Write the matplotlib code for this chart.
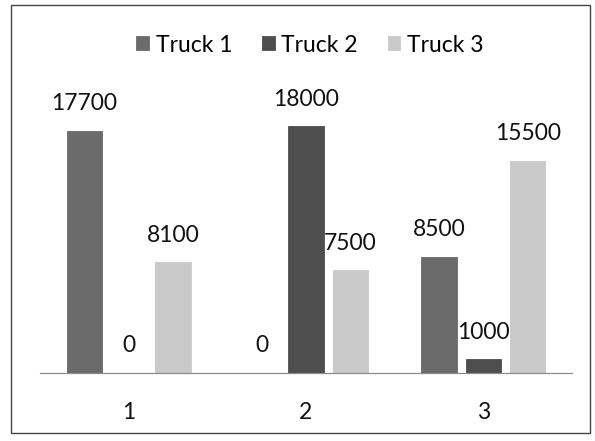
import numpy as np
import matplotlib.pyplot as plt
from matplotlib.patches import Rectangle

categories = ["1", "2", "3"]
truck1 = [17700, 0, 8500]
truck2 = [0, 18000, 1000]
truck3 = [8100, 7500, 15500]
series_names = ["Truck 1", "Truck 2", "Truck 3"]
colors = ["#6b6b6b", "#4e4e4e", "#c9c9c9"]

plt.rcParams['font.family'] = ['Lato', 'DejaVu Sans']

fig = plt.figure(figsize=(5.95, 4.41), dpi=100)
ax = fig.add_axes([40 / 595, 68 / 441, 532 / 595, 274 / 441])

x = np.arange(len(categories))
width = 0.2
offsets = [-0.25, 0.0, 0.25]
series = [truck1, truck2, truck3]

for vals, off, col, name in zip(series, offsets, colors, series_names):
    bars = ax.bar(x + off, vals, width, color=col, label=name,
                  edgecolor=col, linewidth=0.6)
    for b, v in zip(bars, vals):
        ax.annotate(str(v), (b.get_x() + b.get_width() / 2, v),
                    xytext=(0, 27), textcoords='offset pixels',
                    ha='center', va='center', fontsize=16.5, color='#111111')

ax.set_xlim(-0.5, 2.5)
ax.set_ylim(0, 20000)
ax.set_xticks(x)
ax.set_xticklabels(categories, fontsize=16.5, color='#111111')
ax.tick_params(axis='x', length=0, pad=21)
ax.set_yticks([])
for s in ['top', 'right', 'left']:
    ax.spines[s].set_visible(False)
ax.spines['bottom'].set_color('#8c8c8c')
ax.spines['bottom'].set_linewidth(0.9)

leg = fig.legend(loc='center', bbox_to_anchor=(310 / 595, 1 - 45 / 441),
                 ncol=3, frameon=False, fontsize=16.5, handlelength=0.55,
                 handleheight=0.55, handletextpad=0.3, columnspacing=1.3)

# outer chart border
fig.patches.append(Rectangle((11 / 595, 8 / 441), 579 / 595, 428 / 441,
                             transform=fig.transFigure, fill=False,
                             edgecolor='#444444', linewidth=1.0))

fig.savefig('out.png', dpi=100)
